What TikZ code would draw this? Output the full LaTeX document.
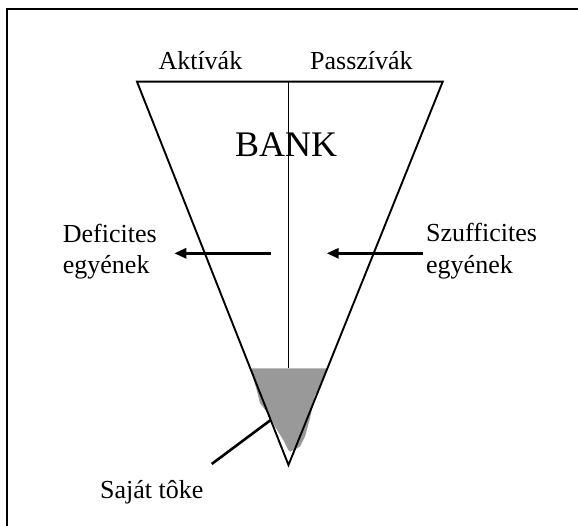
\documentclass[tikz,border=0pt]{standalone}
\usepackage{fontspec}
\setmainfont{Liberation Serif}
\usetikzlibrary{arrows.meta}
\tikzset{
  lbl/.style={inner sep=0pt, anchor=base west, font=\fontsize{26}{31}\selectfont},
  big/.style={inner sep=0pt, anchor=base west, font=\fontsize{36}{40}\selectfont},
  edge/.style={line width=1.9pt, line join=miter},
  flow/.style={line width=2.8pt, -{Triangle[length=12pt,width=10pt]}},
  pointer/.style={line width=2.6pt},
  frame/.style={line width=2.2pt},
}
\begin{document}
\begin{tikzpicture}[x=1pt, y=-1pt]
\useasboundingbox (0,0) rectangle (578,526);
\clip (0,0) rectangle (578,526);
% frame
\draw[frame] (7.3,540) -- (7.3,9) -- (590,9);
% corners
\coordinate (tl) at (137,81.7);
\coordinate (tr) at (442.7,81.7);
\coordinate (tc) at (288.5,81.7);
\coordinate (ap) at (288.5,465);
\coordinate (gc) at (288.5,368.3);
% equity fill
\fill[fill=black!40]
  (251.7,368.3) -- (328.3,368.3) -- (318.3,390) -- (315,395) -- (310,418.3)
  -- (305,436.7) -- (300,446.7) -- (290,451.7) -- (288.3,450) -- (283.3,440)
  -- (275,426.7) -- (271.7,420) -- (266.7,411.7) -- (260,403.3) -- (256.7,390)
  -- (253.3,378.3) -- cycle;
% trapezoid
\draw[edge] (ap) -- (tl) -- (tr) -- cycle;
\draw[edge] (tc) -- (gc);
% labels
\node[lbl] (akt) at (158.3,70) {Aktívák};
\node[lbl] (pas) at (310,70) {Passzívák};
\node[big] (bank) at (235,156.7) {BANK};
\node[lbl] (def1) at (62.7,242.3) {Deficites};
\node[lbl] (def2) at (62.7,273.3) {egyének};
\node[lbl] (szu1) at (426,241.7) {Szufficites};
\node[lbl] (szu2) at (426,273.3) {egyének};
\node[lbl] (st) at (100,498.6) {Saját tôke};
% arrows
\coordinate (la0) at (271,253.3);
\coordinate (la1) at (174.3,253.3);
\coordinate (ra0) at (422.7,253.3);
\coordinate (ra1) at (326.7,253.3);
\draw[flow] (la0) -- (la1);
\draw[flow] (ra0) -- (ra1);
% pointer
\coordinate (p0) at (211.7,464);
\coordinate (p1) at (270.7,420);
\draw[pointer] (p0) -- (p1);
\end{tikzpicture}
\end{document}
